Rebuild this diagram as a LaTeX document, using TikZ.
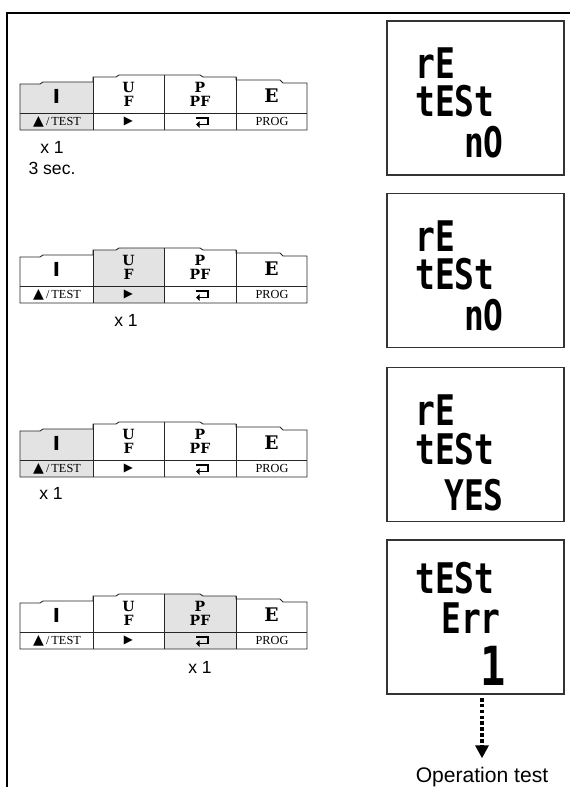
\documentclass[tikz,border=0pt]{standalone}
\usepackage{fontspec}
\setmainfont{Liberation Sans}
\newfontfamily\keyfont{DejaVu Serif}
\newfontfamily\symfont{DejaVu Sans}
\newfontfamily\lcdfont{DejaVu Sans Mono}
\newfontfamily\capfont{Liberation Serif}
\usetikzlibrary{positioning}
\usetikzlibrary{arrows.meta}
\newcommand{\lcdtxt}[1]{\scalebox{0.78}[1]{#1}}

\begin{document}
\begin{tikzpicture}[x=0.03cm,y=-0.03cm,
  keyline/.style={draw=black!85,line width=0.8pt},
  keyon/.style={fill=black!11},
  lcd/.style={draw=black!80,line width=0.9pt,minimum width=5.31cm,minimum height=4.62cm,inner sep=0},
  seg/.style={font=\lcdfont\bfseries\fontsize{36}{36}\selectfont,inner sep=0},
  barkey/.style={font=\symfont\bfseries\fontsize{16.5}{16.5}\selectfont,inner sep=0},
  stackkey/.style={font=\keyfont\bfseries\fontsize{12}{12.2}\selectfont,align=center,inner sep=0},
  ekey/.style={font=\keyfont\bfseries\fontsize{16}{16}\selectfont,inner sep=0},
  lowkey/.style={font=\capfont\fontsize{10.5}{10.5}\selectfont,inner sep=0},
  symkey/.style={font=\symfont\fontsize{10}{10}\selectfont,inner sep=0},
  enter/.style={line width=1.6pt,-{Triangle[length=3pt,width=5.5pt]}},
  note/.style={font=\fontsize{15}{15}\selectfont,inner sep=0},
  dotarrow/.style={line width=3.5pt,dash pattern=on 3pt off 2pt,-{Triangle[length=11pt,width=11pt]},shorten <=3pt,shorten >=7pt}]
\useasboundingbox (0,0) rectangle (570,787);

% frame
\draw[line width=1.8pt] (7,787) -- (7,13) -- (570,13);

% pressed keys
\fill[keyon] (20,84) -- (40,84) -- (43,82) -- (93,82) -- (93,130) -- (20,130) -- cycle;
\fill[keyon] (93,250) -- (116,250) -- (119,248) -- (164,248) -- (164,303) -- (93,303) -- cycle;
\fill[keyon] (20,431) -- (40,431) -- (43,429) -- (93,429) -- (93,477) -- (20,477) -- cycle;
\fill[keyon] (164,594) -- (200,594) -- (203,596) -- (236,596) -- (236,649) -- (164,649) -- cycle;

% keypads
\foreach \D [count=\n] in {113,286,460,632} {
  \draw[keyline] (20,\D-29) -- (40,\D-29) -- (43,\D-31) -- (93,\D-31) -- (93,\D-36) -- (116,\D-36) -- (119,\D-38)
    -- (200,\D-38) -- (203,\D-36) -- (236,\D-36) -- (236,\D-33) -- (280,\D-33) -- (283,\D-30) -- (307,\D-30)
    -- (307,\D+17) -- (20,\D+17) -- cycle;
  \draw[keyline] (20,\D) -- (307,\D);
  \draw[keyline] (93,\D-36) -- (93,\D+17) (164,\D-38) -- (164,\D+17) (236,\D-36) -- (236,\D+17);
  \node[barkey] (i\n) at (56.5,\D-17) {I};
  \node[stackkey] (uf\n) at (128.5,\D-18.5) {U\\F};
  \node[stackkey] (ppf\n) at (200,\D-18.5) {P\\PF};
  \node[ekey] (e\n) at (271.5,\D-17) {E};
  \node[lowkey] (test\n) at (57,\D+8.5) {{\symfont\fontsize{12}{12}\selectfont ▲}\,/\,TEST};
  \node[symkey] (right\n) at (128.5,\D+8.5) {▶};
  \draw[enter] (196,\D+5) -- (208,\D+5) -- (208,\D+11.5) -- (196,\D+11.5);
  \node[lowkey] (prog\n) at (272,\D+8.5) {PROG};
}

% key counts
\node[note] (x1) at (52,147) {x 1};
\node[note] (sec) at (52,168) {3 sec.};
\node[note] (x2) at (126,320) {x 1};
\node[note] (x3) at (51,493) {x 1};
\node[note] (x4) at (200,667) {x 1};

% displays
\node[lcd] (d1) at (475.5,98) {};
\node[lcd] (d2) at (475.5,270.5) {};
\node[lcd] (d3) at (475.5,444.5) {};
\node[lcd] (d4) at (475.5,617) {};

\node[seg,anchor=base west] (re1) at (415,78) {\lcdtxt{rE}};
\node[seg,anchor=base west] (tst1) at (415,116) {\lcdtxt{tESt}};
\node[seg,anchor=base east] (no1) at (504,157) {\lcdtxt{nO}};
\node[seg,anchor=base west] (re2) at (415,251) {\lcdtxt{rE}};
\node[seg,anchor=base west] (tst2) at (415,289) {\lcdtxt{tESt}};
\node[seg,anchor=base east] (no2) at (504,330) {\lcdtxt{nO}};
\node[seg,anchor=base west] (re3) at (415,425) {\lcdtxt{rE}};
\node[seg,anchor=base west] (tst3) at (415,464) {\lcdtxt{tESt}};
\node[seg,anchor=base east] (yes3) at (504,510) {\lcdtxt{YES}};
\node[seg,anchor=base west] (tst4) at (415,593) {\lcdtxt{tESt}};
\node[seg,anchor=base east] (err4) at (501,633) {\lcdtxt{Err}};
\node[seg,anchor=base east,font=\lcdfont\bfseries\fontsize{46}{46}\selectfont] (one4) at (506,685) {\lcdtxt{1}};

% to operation test
\node[font=\fontsize{18}{18}\selectfont,anchor=base,inner sep=0] (optest) at (482,782) {Operation test};
\draw[dotarrow] (d4.south -| optest) -- (optest.north);

\end{tikzpicture}
\end{document}
